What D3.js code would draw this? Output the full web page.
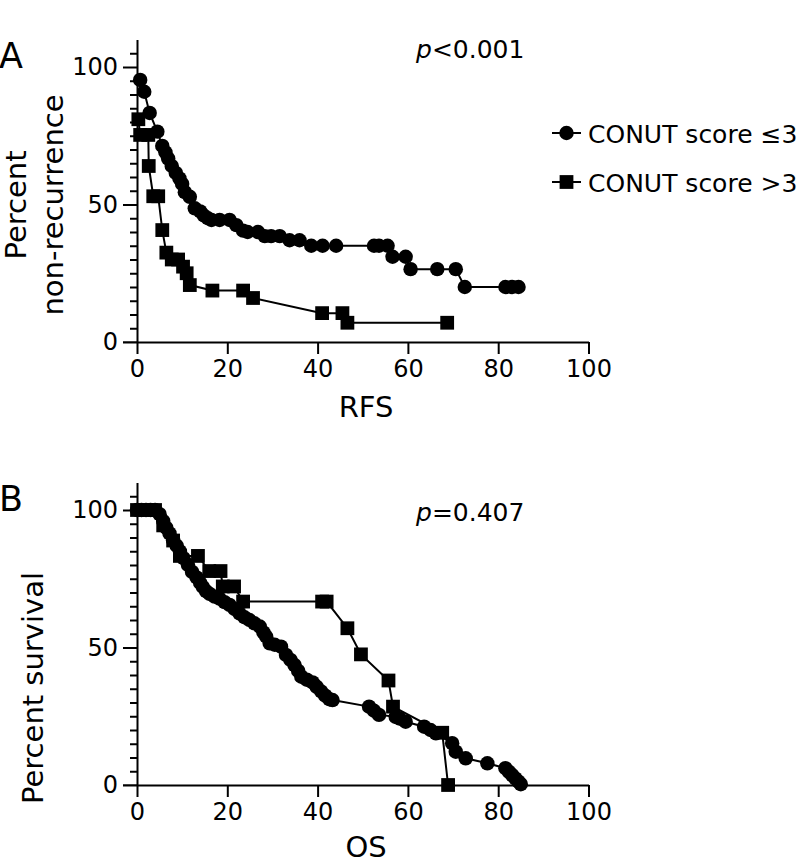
<!DOCTYPE html>
<html><head><meta charset="utf-8">
<script src="https://cdn.jsdelivr.net/npm/d3@7"></script>
<style>body{margin:0;background:#fff}svg{display:block}text{font-family:"DejaVu Sans",Verdana,sans-serif;fill:#000}</style>
</head><body>
<svg id="c" width="806" height="864"></svg>
<script>
// ---- data ----
const xTicks = [0, 20, 40, 60, 80, 100];
const yTicks = [0, 50, 100];
const seriesNames = ["CONUT score \u22643", "CONUT score >3"];
// Panel A: RFS (x in months, y percent non-recurrence)
const rfsLow = [[0.7,95.3],[1.6,91],[2.8,83.3],[4.5,76.5],[5.6,71.3],[6.3,69],[6.9,66.7],[7.7,64],[8.6,61.5],[9.4,59.5],[10,57.5],[10.6,54.5],[11.7,52.8],[12.8,48.6],[14,47.5],[14.8,46],[15.7,45],[16.5,44.4],[18.3,44.4],[20.5,44.4],[22,42.5],[23.5,40.5],[24.5,40],[26.8,40],[28.3,38.5],[29.7,38.5],[31.6,38.5],[33.8,37],[36,37],[38.6,35],[41.1,35],[44.1,35],[52.5,35],[53.6,35],[55.5,35],[56.6,31],[59.5,31],[60.6,26.5],[66.5,26.5],[70.6,26.5],[72.6,20],[81.6,20],[83.1,20],[84.5,20]];
const rfsHigh = [[0.3,81],[0.7,75.3],[2.5,75.3],[2.6,64],[3.6,53],[4.7,53],[5.6,40.7],[6.5,32.5],[7.7,30],[9.1,30],[10.2,27.4],[11,25],[11.7,20.7],[16.7,18.7],[23.5,18.7],[25.7,16],[41,10.5],[45.5,10.5],[46.6,7],[68.7,7]];
// Panel B: OS (percent survival)
const osLow = [[0,100],[1,100],[2,100],[3,100],[4,100],[5,98.5],[5.8,96],[6.5,93.5],[7.2,91.5],[8,89],[8.8,87],[9.5,85],[10.3,82.5],[11.3,80],[12.2,77.5],[13.2,75.5],[14,73.5],[14.6,72],[15.3,70.5],[16.1,69.5],[17.2,68.5],[18.3,67.8],[19.4,66.5],[20.5,65.5],[21.6,64],[22.7,62.4],[23.8,61],[24.9,60],[26,58.8],[27.2,57.6],[28,55.5],[28.6,54],[29.4,51.5],[30.5,51],[31.9,50.3],[33,47.3],[34,45.5],[34.9,43.6],[35.7,41.5],[36.4,39.4],[37.6,38.3],[38.9,37.3],[39.8,35.7],[40.8,34],[41.7,32.5],[42.6,31.2],[43.3,30.9],[51.4,28.5],[52.5,27],[53.6,25.5],[57.3,24.8],[58.1,24.2],[59.5,23],[63.6,21.2],[65,20],[66.2,18.8],[69.8,15.2],[70.6,12.1],[72.8,9.7],[77.6,7.9],[81.6,6.1],[82.4,4.8],[83.1,3.6],[83.8,2.4],[84.5,1.2],[85,0.3]];
const osHigh = [[0,100],[2,100],[4,100],[5.8,94.4],[8,88.9],[9.5,83.3],[13.5,83.3],[16,77.8],[18.5,77.8],[19,72.2],[21.5,72.2],[23.5,66.7],[41,66.7],[42,66.7],[46.6,57],[49.6,47.5],[55.7,38],[56.7,28.5],[67.6,19],[68.9,0]];
const pA = "<0.001", pB = "=0.407";

// ---- drawing ----
const svg = d3.select("#c");
const x = d3.scaleLinear().domain([0,100]).range([137,588.5]);

function panel(yBottom, data1, data2, yTitleLines, xTitle, titleOffset, letter, ptext, pBase){
  const y = d3.scaleLinear().domain([0,110]).range([yBottom, yBottom-302.5]);
  const g = svg.append("g");
  // minor y ticks
  g.append("g").attr("transform","translate(137,0)")
    .call(d3.axisLeft(y).tickValues(d3.range(5,110,5).filter(v=>v%50!==0)).tickSize(7).tickSizeOuter(0).tickFormat(""))
    .call(a=>a.select(".domain").remove());
  // major y ticks
  const ya = g.append("g").attr("transform","translate(137,0)")
    .call(d3.axisLeft(y).tickValues(yTicks).tickSize(14).tickSizeOuter(0).tickPadding(5));
  ya.selectAll("text").style("font-size","24px");
  // x axis
  const xa = g.append("g").attr("transform",`translate(0,${yBottom})`)
    .call(d3.axisBottom(x).tickValues(xTicks).tickSize(12).tickSizeOuter(0).tickPadding(6));
  xa.selectAll("text").style("font-size","24px");
  g.append("line").attr("x1",123).attr("x2",137).attr("y1",yBottom).attr("y2",yBottom).attr("stroke","#000");
  g.selectAll(".domain, .tick line").attr("stroke","#000").attr("stroke-width",2);
  // x title
  g.append("text").attr("x",366).attr("y",yBottom+titleOffset).attr("text-anchor","middle").style("font-size","29px").text(xTitle);
  // y title
  yTitleLines.forEach(l=>{
    g.append("text").attr("transform",`translate(${l.x},${l.cy}) rotate(-90)`).attr("text-anchor","middle")
      .style("font-size","29px").text(l.t);
  });
  // letter
  g.append("text").attr("x",-1).attr("y",yBottom-274).style("font-size","35px").text(letter);
  // p text
  const pt = g.append("text").attr("x",416).attr("y",pBase).style("font-size","25px");
  pt.append("tspan").style("font-style","italic").text("p");
  pt.append("tspan").text(ptext);
  // series
  const line = d3.line().x(d=>x(d[0])).y(d=>y(d[1]));
  [[data1,d3.symbolCircle,165],[data2,d3.symbolSquare,190]].forEach(([d,sym,size])=>{
    g.append("path").datum(d).attr("d",line).attr("fill","none").attr("stroke","#000").attr("stroke-width",2);
    g.selectAll(null).data(d).join("path")
      .attr("transform",p=>`translate(${x(p[0])},${y(p[1])})`)
      .attr("d",d3.symbol(sym,size)).attr("fill","#000");
  });
}

panel(342, rfsLow, rfsHigh, [{t:"Percent",x:26,cy:205},{t:"non-recurrence",x:63,cy:205}], "RFS", 75, "A", pA, 58);
panel(785, osLow, osHigh, [{t:"Percent survival",x:43,cy:688}], "OS", 72, "B", pB, 521);

// legend
const leg = svg.append("g");
[[d3.symbolCircle,165,133],[d3.symbolSquare,190,182]].forEach(([sym,size,ly],i)=>{
  leg.append("line").attr("x1",552).attr("x2",581).attr("y1",ly).attr("y2",ly).attr("stroke","#000").attr("stroke-width",2);
  leg.append("path").attr("transform",`translate(566.5,${ly})`).attr("d",d3.symbol(sym,size)).attr("fill","#000");
  leg.append("text").attr("x",588).attr("y",ly+9.5).style("font-size","25px").text(seriesNames[i]);
});
</script>
</body></html>
